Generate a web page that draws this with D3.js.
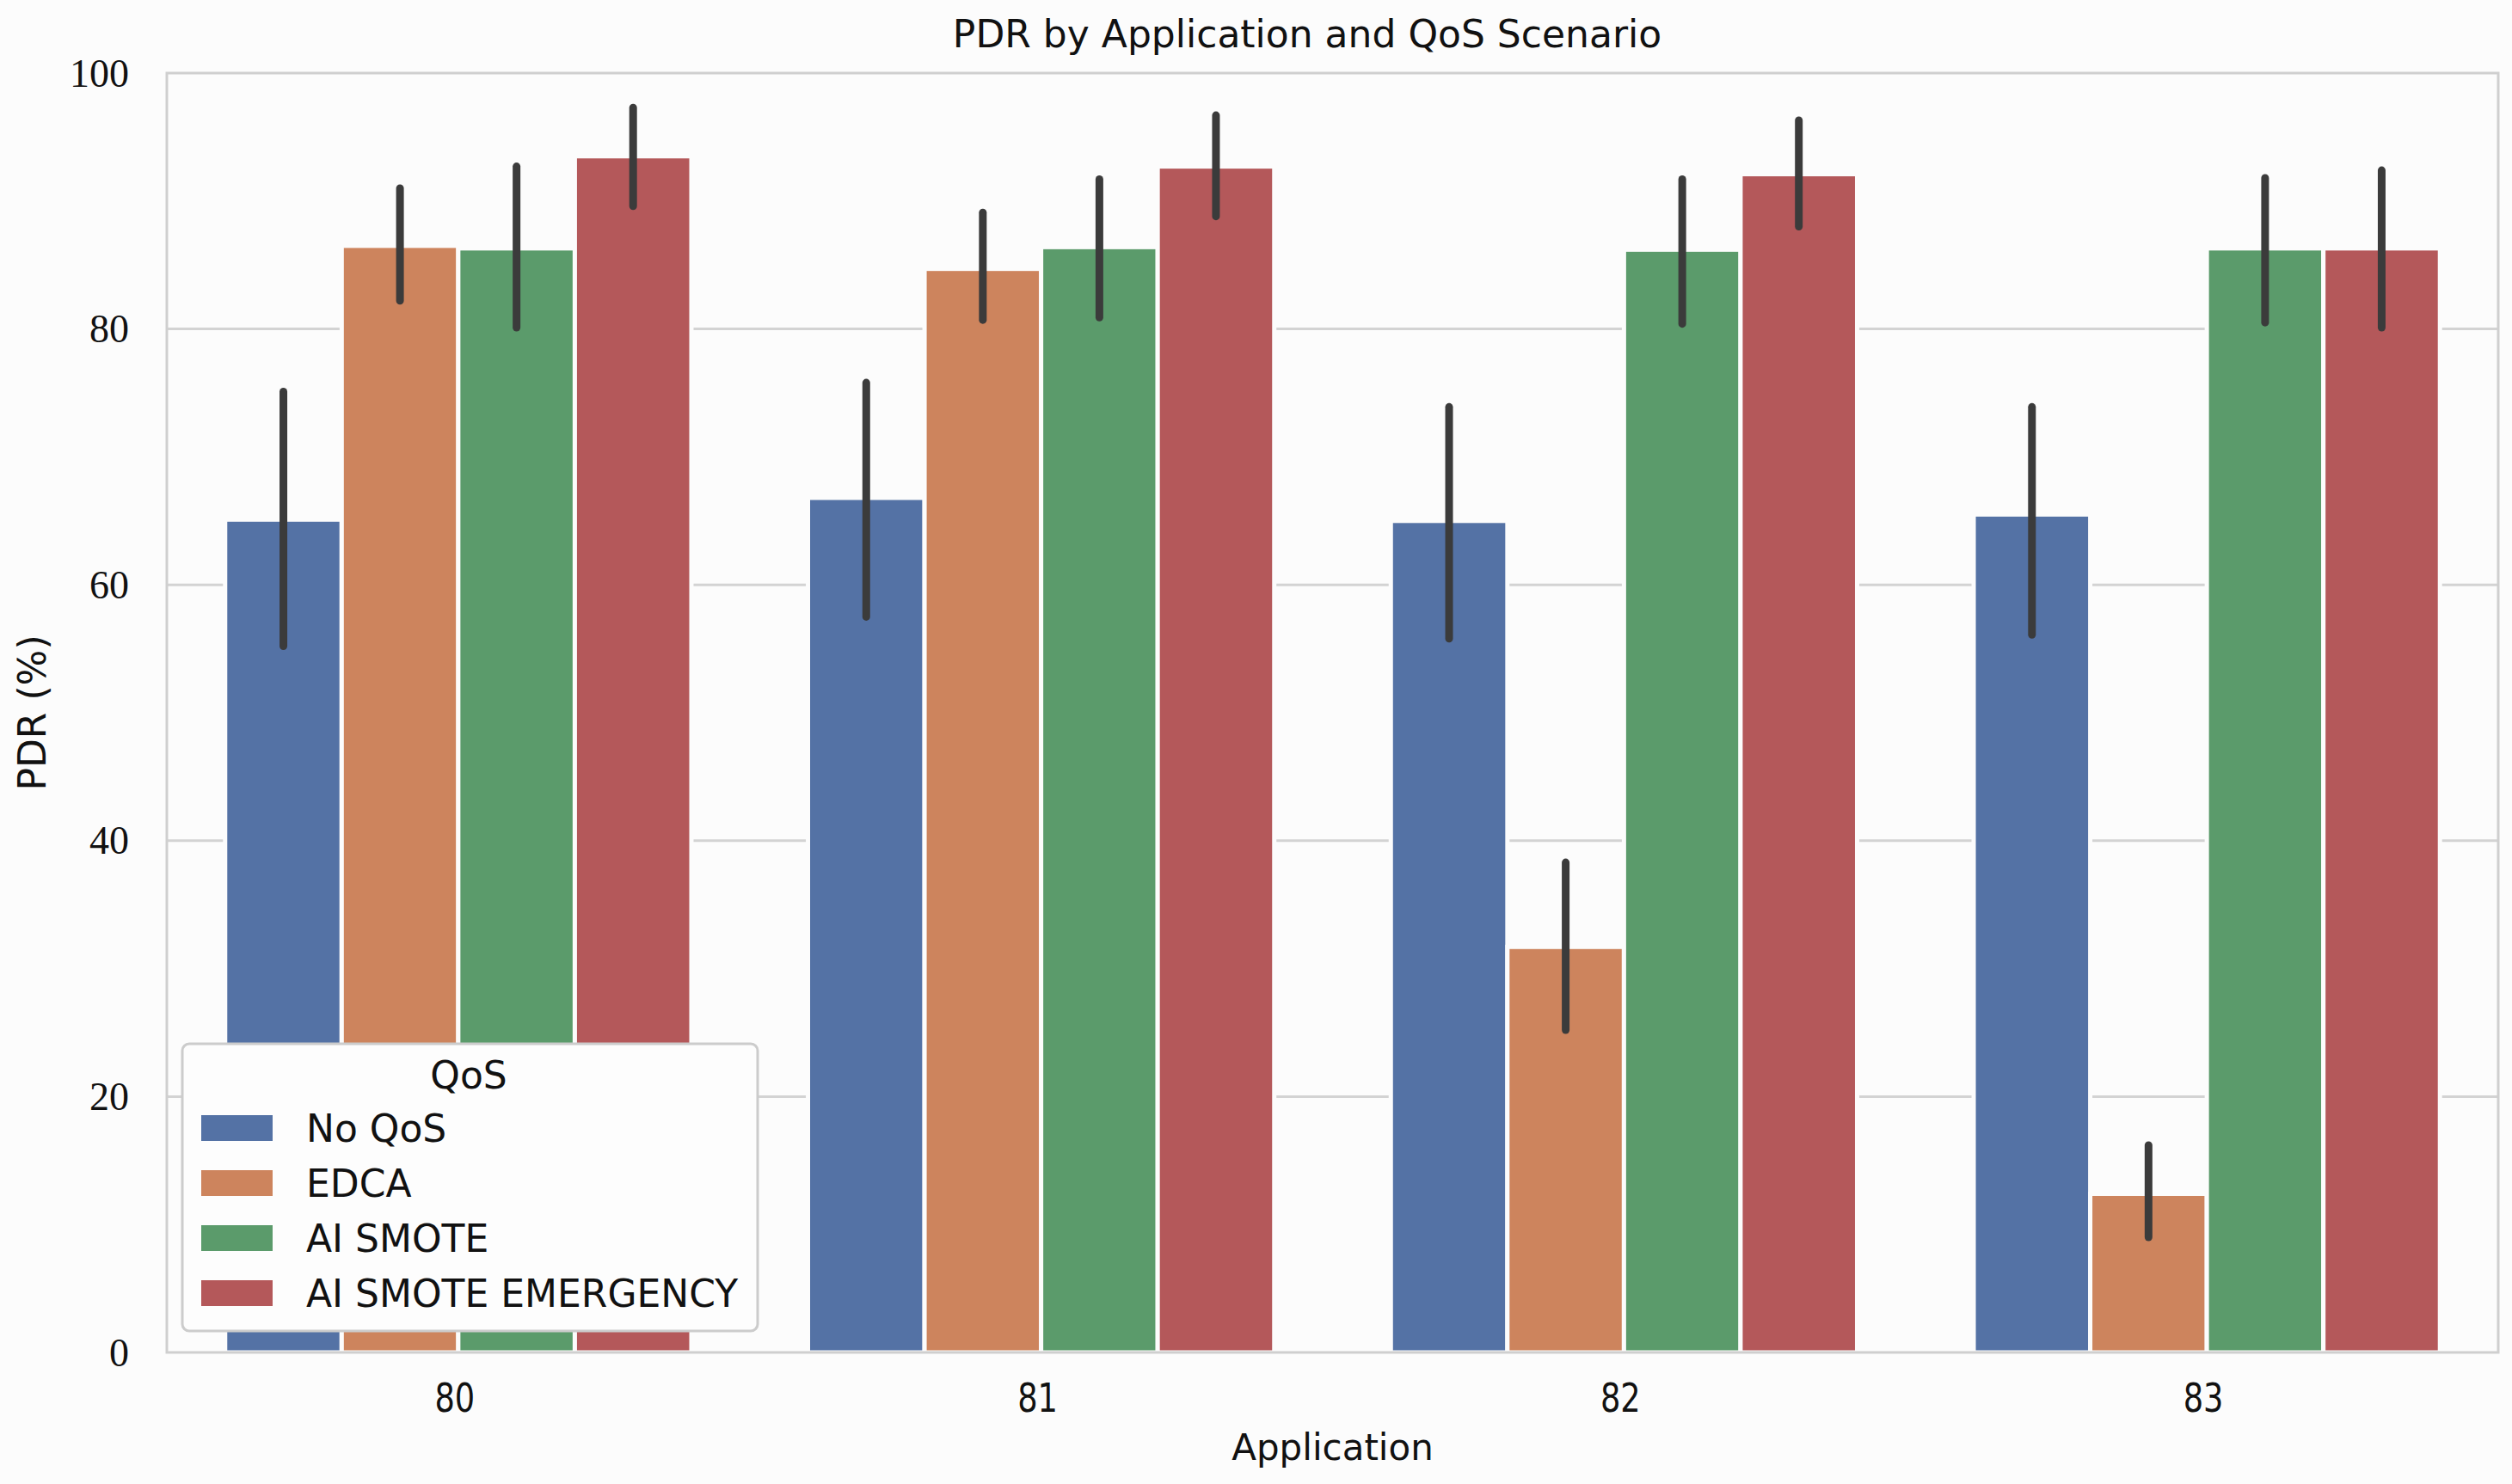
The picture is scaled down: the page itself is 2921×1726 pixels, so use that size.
<!DOCTYPE html>
<html>
<head>
<meta charset="utf-8">
<script src="https://cdn.jsdelivr.net/npm/d3@7"></script>
<style>
  html, body { margin: 0; padding: 0; background: #fcfcfc; }
  svg { display: block; }
  .grid-line { stroke: #d3d3d3; stroke-width: 3; }
  .spine { stroke: #cfcfcf; stroke-width: 3; fill: none; }
  .err-line { stroke: #3b3b3b; stroke-width: 9; stroke-linecap: round; }
  .sans { font-family: "DejaVu Sans", sans-serif; fill: #111; }
  .serif { font-family: "Liberation Serif", "DejaVu Serif", serif; fill: #111; }
</style>
</head>
<body>
<div id="wrapper"></div>
<script>
// data
const applications = ["80", "81", "82", "83"]
const qosTypes = ["No QoS", "EDCA", "AI SMOTE", "AI SMOTE EMERGENCY"]
const qosColors = ["#5472a5", "#cd845d", "#5b9b6b", "#b4585a"]
const yTicks = [0, 20, 40, 60, 80, 100]

const noQosMean = [65.1, 66.8, 65.0, 65.5]
const noQosLow = [55.2, 57.5, 55.8, 56.1]
const noQosHigh = [75.1, 75.8, 73.9, 73.9]

const edcaMean = [86.5, 84.7, 31.7, 12.4]
const edcaLow = [82.2, 80.7, 25.2, 9.0]
const edcaHigh = [91.0, 89.1, 38.3, 16.2]

const smoteMean = [86.3, 86.4, 86.2, 86.3]
const smoteLow = [80.1, 80.9, 80.4, 80.5]
const smoteHigh = [92.7, 91.7, 91.7, 91.8]

const emergencyMean = [93.5, 92.7, 92.1, 86.3]
const emergencyLow = [89.6, 88.8, 88.0, 80.1]
const emergencyHigh = [97.3, 96.7, 96.3, 92.4]

const drawChart = () => {
  const seriesMeans = [noQosMean, edcaMean, smoteMean, emergencyMean]
  const seriesLows = [noQosLow, edcaLow, smoteLow, emergencyLow]
  const seriesHighs = [noQosHigh, edcaHigh, smoteHigh, emergencyHigh]

  const data = []
  applications.forEach((app, i) => {
    qosTypes.forEach((qos, j) => {
      data.push({
        app,
        qos,
        mean: seriesMeans[j][i],
        low: seriesLows[j][i],
        high: seriesHighs[j][i],
      })
    })
  })

  // 1) Accessors
  const appAccessor = (d) => d.app
  const qosAccessor = (d) => d.qos
  const meanAccessor = (d) => d.mean

  // 2) Dimensions
  const dimensions = {
    width: 2921,
    height: 1726,
    margin: { top: 85, right: 16, bottom: 153, left: 194 },
  }
  dimensions.boundedWidth =
    dimensions.width - dimensions.margin.left - dimensions.margin.right
  dimensions.boundedHeight =
    dimensions.height - dimensions.margin.top - dimensions.margin.bottom

  // 3) Canvas
  const wrapper = d3
    .select("#wrapper")
    .append("svg")
    .attr("width", dimensions.width)
    .attr("height", dimensions.height)

  wrapper
    .append("rect")
    .attr("width", dimensions.width)
    .attr("height", dimensions.height)
    .attr("fill", "#fcfcfc")

  const bounds = wrapper
    .append("g")
    .attr(
      "transform",
      `translate(${dimensions.margin.left}, ${dimensions.margin.top})`
    )

  // 4) Scales
  const xScale = d3
    .scaleBand()
    .domain(applications)
    .range([0, dimensions.boundedWidth])
    .paddingInner(0.2)
    .paddingOuter(0.1)

  const qosScale = d3
    .scaleBand()
    .domain(qosTypes)
    .range([0, xScale.bandwidth()])

  const yScale = d3
    .scaleLinear()
    .domain([0, 100])
    .range([dimensions.boundedHeight, 0])

  const colorScale = d3.scaleOrdinal().domain(qosTypes).range(qosColors)

  // 5) Peripherals (grid)
  bounds
    .append("g")
    .selectAll("line")
    .data(yTicks.filter((d) => d > 0 && d < 100))
    .join("line")
    .attr("class", "grid-line")
    .attr("x1", 0)
    .attr("x2", dimensions.boundedWidth)
    .attr("y1", (d) => yScale(d))
    .attr("y2", (d) => yScale(d))

  // 6) Bars
  const barX = (d) => xScale(appAccessor(d)) + qosScale(qosAccessor(d))

  bounds
    .append("g")
    .selectAll("rect")
    .data(data)
    .join("rect")
    .attr("x", barX)
    .attr("y", (d) => yScale(meanAccessor(d)))
    .attr("width", qosScale.bandwidth())
    .attr("height", (d) => yScale(0) - yScale(meanAccessor(d)))
    .attr("fill", (d) => colorScale(qosAccessor(d)))
    .attr("stroke", "#fcfcfc")
    .attr("stroke-width", 5)

  bounds
    .append("g")
    .selectAll("line")
    .data(data)
    .join("line")
    .attr("class", "err-line")
    .attr("x1", (d) => barX(d) + qosScale.bandwidth() / 2)
    .attr("x2", (d) => barX(d) + qosScale.bandwidth() / 2)
    .attr("y1", (d) => yScale(d.low))
    .attr("y2", (d) => yScale(d.high))

  // spines
  bounds
    .append("rect")
    .attr("class", "spine")
    .attr("width", dimensions.boundedWidth)
    .attr("height", dimensions.boundedHeight)

  // y tick labels
  bounds
    .append("g")
    .selectAll("text")
    .data(yTicks)
    .join("text")
    .attr("class", "serif")
    .attr("x", -44)
    .attr("y", (d) => yScale(d))
    .attr("dy", "0.34em")
    .attr("text-anchor", "end")
    .style("font-size", "46px")
    .text((d) => d)

  // x tick labels (narrow digits, like the reference)
  bounds
    .append("g")
    .selectAll("text")
    .data(applications)
    .join("text")
    .attr("class", "sans")
    .attr(
      "transform",
      (d) =>
        `translate(${xScale(d) + xScale.bandwidth() / 2 - 4}, ${
          dimensions.boundedHeight + 69
        }) scale(0.8, 1)`
    )
    .attr("text-anchor", "middle")
    .style("font-size", "46px")
    .text((d) => d)

  // axis labels and title
  wrapper
    .append("text")
    .attr("class", "sans")
    .attr("x", dimensions.margin.left + dimensions.boundedWidth / 2)
    .attr("y", 1698)
    .attr("text-anchor", "middle")
    .style("font-size", "42px")
    .text("Application")

  wrapper
    .append("text")
    .attr("class", "sans")
    .attr(
      "transform",
      `translate(37, ${dimensions.margin.top + dimensions.boundedHeight / 2}) rotate(-90)`
    )
    .attr("text-anchor", "middle")
    .attr("dominant-baseline", "central")
    .style("font-size", "44px")
    .text("PDR (%)")

  wrapper
    .append("text")
    .attr("class", "sans")
    .attr("x", 1520)
    .attr("y", 55)
    .attr("text-anchor", "middle")
    .style("font-size", "44px")
    .text("PDR by Application and QoS Scenario")

  // 7) Legend
  const legend = wrapper.append("g").attr("transform", "translate(212, 1214)")

  legend
    .append("rect")
    .attr("width", 669)
    .attr("height", 334)
    .attr("rx", 8)
    .attr("fill", "#fdfdfd")
    .attr("stroke", "#cccccc")
    .attr("stroke-width", 3)

  legend
    .append("text")
    .attr("class", "sans")
    .attr("x", 333)
    .attr("y", 52)
    .attr("text-anchor", "middle")
    .style("font-size", "44px")
    .text("QoS")

  qosTypes.forEach((type, index) => {
    const cy = 98 + index * 64
    legend
      .append("rect")
      .attr("x", 22)
      .attr("y", cy - 15)
      .attr("width", 83)
      .attr("height", 30)
      .attr("fill", colorScale(type))

    legend
      .append("text")
      .attr("class", "sans")
      .attr("x", 144)
      .attr("y", cy)
      .attr("dy", "0.36em")
      .style("font-size", "44px")
      .text(type)
  })
}

drawChart()
</script>
</body>
</html>
